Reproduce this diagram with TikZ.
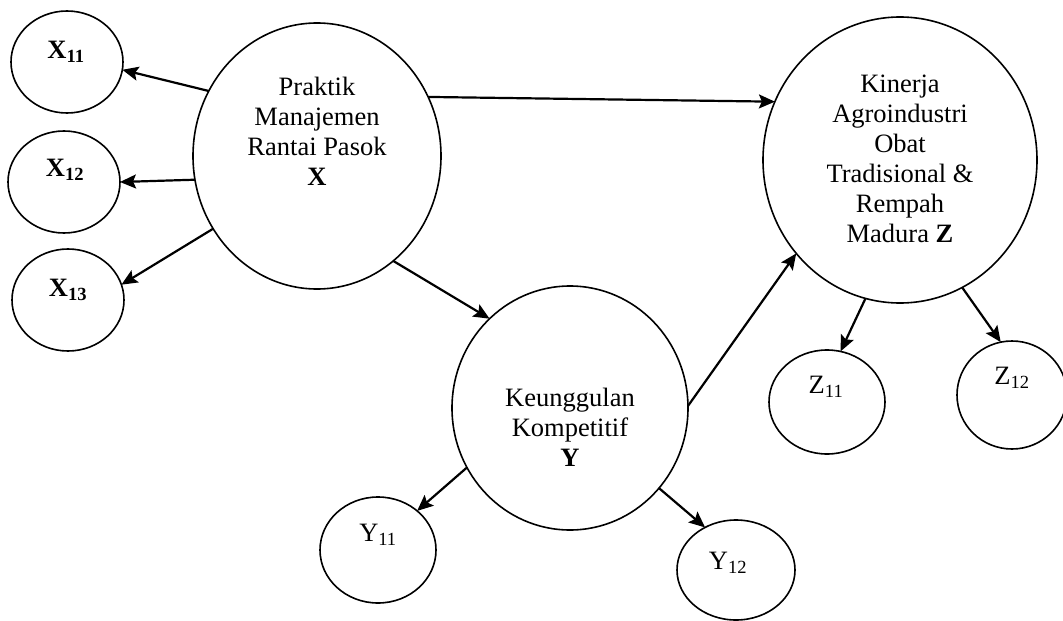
\documentclass[tikz,border=0pt]{standalone}
\usepackage{fontspec}
\setmainfont{Liberation Serif}
\usetikzlibrary{shapes.geometric,arrows.meta}

\begin{document}
\begin{tikzpicture}[x=1pt,y=-1pt,
		konstruk/.style={draw, ellipse, line width=1.6pt, inner sep=0pt, outer sep=0pt},
		indikator/.style={draw, ellipse, line width=1.6pt, minimum width=112pt, minimum height=102pt, inner sep=0pt, outer sep=0pt},
		teks/.style={align=center, font=\fontsize{26.5}{30}\selectfont},
		panah/.style={-{Stealth[length=16pt,width=14pt,inset=3pt]}, line width=2.2pt}]
		\useasboundingbox (0,0) rectangle (1063,621);

		% Konstruk (lingkaran besar)
		\node[konstruk, minimum width=248pt, minimum height=266pt] (X) at (317,156) {};
		\node[konstruk, minimum width=274pt, minimum height=286pt] (Z) at (900,160) {};
		\node[konstruk, minimum width=236pt, minimum height=244pt] (Y) at (570,408) {};

		% Teks konstruk
		\node[teks] (Xt) at (317,131) {Praktik\\Manajemen\\Rantai Pasok\\\textbf{X}};
		\node[teks] (Zt) at (900,159) {Kinerja\\Agroindustri\\Obat\\Tradisional \&\\Rempah\\Madura \textbf{Z}};
		\node[teks] (Yt) at (570,427) {Keunggulan\\Kompetitif\\\textbf{Y}};

		% Indikator
		\node[indikator] (X11) at (67,62) {};
		\node[indikator] (X12) at (64,182) {};
		\node[indikator] (X13) at (68,300) {};
		\node[indikator, minimum width=116pt, minimum height=106pt] (Y11) at (378,550) {};
		\node[indikator, minimum width=118pt, minimum height=100pt] (Y12) at (736,570) {};
		\node[indikator, minimum width=116pt, minimum height=104pt] (Z11) at (827,402) {};
		\node[indikator, minimum width=110pt, minimum height=108pt] (Z12) at (1012,395) {};

		% Label indikator
		\node[teks] (X11t) at (66,52) {\textbf{X\textsubscript{11}}};
		\node[teks] (X12t) at (65,170) {\textbf{X\textsubscript{12}}};
		\node[teks] (X13t) at (68,290) {\textbf{X\textsubscript{13}}};
		\node[teks] (Y11t) at (378,535) {Y\textsubscript{11}};
		\node[teks] (Y12t) at (728,563) {Y\textsubscript{12}};
		\node[teks] (Z11t) at (826,387) {Z\textsubscript{11}};
		\node[teks] (Z12t) at (1012,378) {Z\textsubscript{12}};

		% Panah
		\draw[panah] (X.149) -- (X11.-8);
		\draw[panah] (X.191) -- (X12.0);
		\draw[panah] (X.215) -- (X13.16);
		\draw[panah] (X.28) -- (Z.155);
		\draw[panah] (X.-54) -- (Y.132);
		\draw[panah] (Y.1) -- (Z.222);
		\draw[panah] (Y.210) -- (Y11.45);
		\draw[panah] (Y.-42) -- (Y12.126);
		\draw[panah] (Z.256) -- (Z11.75);
		\draw[panah] (Z.-64) -- (Z12.102);

	\end{tikzpicture}
\end{document}
